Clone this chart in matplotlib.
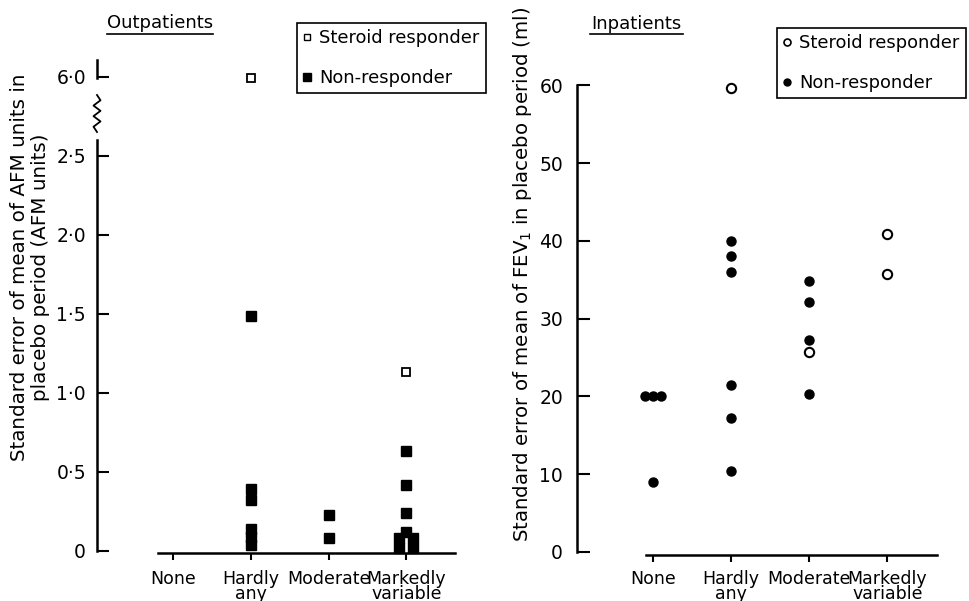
import numpy as np
import matplotlib.pyplot as plt
from matplotlib.lines import Line2D

plt.rcParams['font.family'] = 'DejaVu Sans'
plt.rcParams['font.size'] = 12.5

categories = ['None', 'Hardly\nany', 'Moderate', 'Markedly\nvariable']
ytick_out = [0, 0.5, 1.0, 1.5, 2.0, 2.5, 6.0]
ytick_out_labels = ['0', '0·5', '1·0', '1·5', '2·0', '2·5', '6·0']
ytick_in = [0, 10, 20, 30, 40, 50, 60]

# Outpatients: standard error of AFM units
out_resp_cat = [1, 3]
out_resp_val = [5.9, 1.13]
out_non_cat = [1, 1, 1, 1, 1, 1, 2, 2, 3, 3, 3, 3, 3, 3, 3, 3]
out_non_val = [1.49, 0.39, 0.32, 0.14, 0.09, 0.04, 0.23, 0.08,
               0.63, 0.42, 0.24, 0.12, 0.08, 0.08, 0.02, 0.02]
out_non_dx = [0, 0, 0, 0, 0, 0, 0, 0, 0, 0, 0, 0, -0.09, 0.09, -0.09, 0.08]

# Inpatients: standard error of FEV1 (ml)
in_resp_cat = [1, 2, 3, 3]
in_resp_val = [59.7, 25.7, 40.9, 35.8]
in_non_cat = [0, 0, 0, 0, 1, 1, 1, 1, 1, 1, 2, 2, 2, 2]
in_non_val = [20, 20, 20, 9, 40, 38, 36, 21.5, 17.2, 10.4, 34.8, 32.1, 27.2, 20.3]
in_non_dx = [-0.1, 0, 0.1, 0, 0, 0, 0, 0, 0, 0, 0, 0, 0, 0]


# broken y axis for the outpatients panel
BRK = 2.7
K = 0.3 / 3.3


def fwd(y):
    y = np.asarray(y, dtype=float)
    return np.where(y <= BRK, y, BRK + (y - BRK) * K)


def inv(t):
    t = np.asarray(t, dtype=float)
    return np.where(t <= BRK, t, BRK + (t - BRK) / K)


fig = plt.figure(figsize=(9.7, 6.01), dpi=100)
W, H = 970, 601


def style_axes(ax, xpad):
    for s in ['top', 'right']:
        ax.spines[s].set_visible(False)
    ax.spines['left'].set_linewidth(1.8)
    ax.spines['bottom'].set_linewidth(1.8)
    ax.set_xticks(range(4))
    ax.set_xticklabels(categories, linespacing=0.78)
    ax.tick_params(axis='x', direction='out', length=5, width=1.5, pad=xpad,
                   labelsize=12.5)
    ax.tick_params(axis='y', labelsize=13.5)


# ---- Outpatients ----
ax1 = fig.add_axes([97 / W, 48 / H, 360 / W, 495 / H])
ax1.set_yscale('function', functions=(fwd, inv))
ax1.set_xlim(-0.98, 3.65)
ax1.set_ylim(-0.0127, float(inv(3.12)))
style_axes(ax1, 7)
ax1.spines['left'].set_bounds(0, 2.6)
ax1.spines['bottom'].set_bounds(-0.2, 3.63)
ax1.set_yticks(ytick_out)
ax1.set_yticklabels(ytick_out_labels)
ax1.yaxis.set_minor_locator(plt.NullLocator())
ax1.tick_params(axis='y', direction='in', length=8.5, width=1.5, pad=8)

ax1.plot(np.array(out_non_cat) + np.array(out_non_dx), out_non_val, 's',
         color='black', ms=6.7, clip_on=False)
ax1.plot(out_resp_cat, out_resp_val, 's', mfc='white', mec='black',
         ms=6, mew=1.3, clip_on=False)


def yfrac(p):
    return (553 - p) / 495


# zigzag break mark and short upper segment
zz_y = np.linspace(132, 95, 8)
zz_x = np.array([0, -1, 1, -1, 1, -1, 1, 0]) * 3.5 / 360
ax1.add_line(Line2D(zz_x, [yfrac(p) for p in zz_y], transform=ax1.transAxes,
                    color='black', lw=1.3, clip_on=False))
ax1.add_line(Line2D([0, 0], [yfrac(78), yfrac(60)], transform=ax1.transAxes,
                    color='black', lw=1.8, clip_on=False))

fig.text(30 / W, 1 - 267 / H,
         'Standard error of mean of AFM units in\nplacebo period (AFM units)',
         rotation=90, ha='center', va='center', multialignment='center',
         linespacing=1.1, fontsize=14.3)

# ---- Inpatients ----
ax2 = fig.add_axes([577 / W, 46 / H, 361 / W, 489 / H])
ax2.set_xlim(-0.974, 3.65)
ax2.set_ylim(-0.39, 62.5)
style_axes(ax2, 5.5)
ax2.spines['left'].set_bounds(0, 60)
ax2.spines['bottom'].set_bounds(-0.09, 3.64)
ax2.set_yticks(ytick_in)
ax2.tick_params(axis='y', direction='in', length=9, width=1.5, pad=10)

ax2.plot(np.array(in_non_cat) + np.array(in_non_dx), in_non_val, 'o',
         color='black', ms=6.5, clip_on=False)
ax2.plot(in_resp_cat, in_resp_val, 'o', mfc='white', mec='black',
         ms=6.7, mew=1.5, clip_on=False)

fig.text(523 / W, 1 - 274 / H,
         'Standard error of mean of FEV$_1$ in placebo period (ml)',
         rotation=90, ha='center', va='center', fontsize=14.2)

# ---- titles with underline ----
fig.text(160 / W, 1 - 28 / H, 'Outpatients', ha='center', va='baseline',
         fontsize=13)
fig.add_artist(Line2D([107 / W, 213 / W], [1 - 33.5 / H, 1 - 33.5 / H],
                      transform=fig.transFigure, color='black', lw=1.2))
fig.text(636 / W, 1 - 29 / H, 'Inpatients', ha='center', va='baseline',
         fontsize=13)
fig.add_artist(Line2D([590 / W, 683 / W], [1 - 34 / H, 1 - 34 / H],
                      transform=fig.transFigure, color='black', lw=1.2))

# ---- legends ----
h_out = [Line2D([], [], ls='none', marker='s', mfc='white', mec='black', ms=5, mew=1),
         Line2D([], [], ls='none', marker='s', color='black', ms=5.5)]
h_in = [Line2D([], [], ls='none', marker='o', mfc='white', mec='black', ms=5, mew=1.2),
        Line2D([], [], ls='none', marker='o', color='black', ms=5)]

for handles, anchor in [(h_out, (297 / W, 1 - 23 / H)), (h_in, (777 / W, 1 - 28 / H))]:
    leg = fig.legend(handles, ['Steroid responder', 'Non-responder'],
                     loc='upper left', bbox_to_anchor=anchor, borderaxespad=0,
                     handlelength=0.45, handletextpad=0.45, borderpad=0.35,
                     labelspacing=1.2, fancybox=False, framealpha=1,
                     edgecolor='black', fontsize=12.9)
    leg.get_frame().set_linewidth(1.2)

fig.savefig('out.png', dpi=100)
